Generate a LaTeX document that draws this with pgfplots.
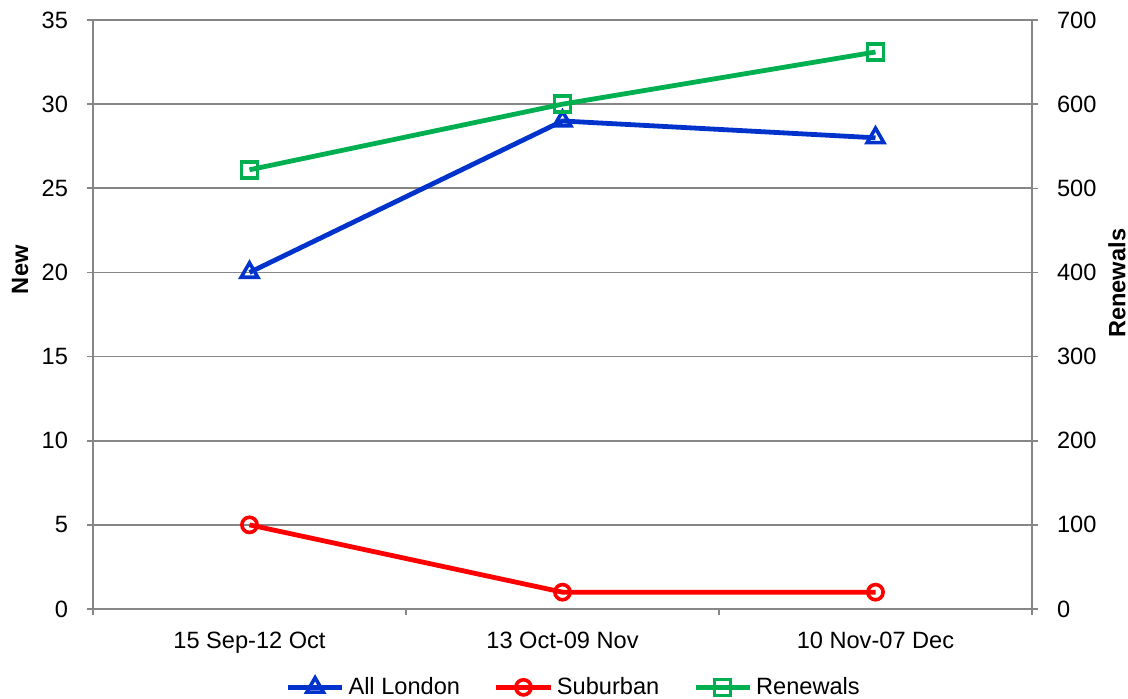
\documentclass[border=0pt]{standalone}
\usepackage{pgfplots}
\pgfplotsset{compat=1.18}
\usepackage{fontspec}
\setmainfont{Liberation Sans}
\definecolor{cblue}{RGB}{0,51,204}
\definecolor{cred}{RGB}{255,0,0}
\definecolor{cgreen}{RGB}{0,176,80}
\definecolor{cgrid}{RGB}{134,134,134}
\begin{document}
\begin{tikzpicture}
\pgfplotsset{
  common/.style={
    scale only axis, width=469.5pt, height=294.5pt,
    at={(0,0)}, anchor=south west,
    xmin=-0.5, xmax=2.5, ymin=0,
    font=\fontsize{11.8pt}{13pt}\selectfont,
    /pgf/number format/assume math mode=true,
    axis line style={cgrid, line width=0.8pt},
    tick style={cgrid, line width=0.8pt},
    tick align=outside,
    major tick length=3pt,
  }
}
\begin{axis}[common,
  ymax=35, ytick={0,5,...,35},
  axis x line*=bottom, axis y line*=left,
  xtick={0,1,2},
  xticklabels={15 Sep-12 Oct,13 Oct-09 Nov,10 Nov-07 Dec},
  major x tick style={draw=none},
  minor xtick={-0.5,0.5,1.5,2.5},
  minor tick length=3pt,
  x tick label style={yshift=-5pt},
  y tick label style={xshift=-6pt},
  ymajorgrids, grid style={cgrid, line width=0.8pt},
  ylabel={\textbf{New}},
  ylabel style={at={(axis description cs:0,0.576)}, yshift=36.5pt, anchor=center},
  legend style={at={(0.513,-0.133)}, anchor=center, draw=none, fill=none,
    legend columns=3, font=\fontsize{11.8pt}{13pt}\selectfont,
    /tikz/every even column/.append style={column sep=15pt}},
  legend image code/.code={\draw[#1] (0cm,0cm) -- (0.95cm,0cm); \draw[#1,mark repeat=2,mark phase=2] plot coordinates {(0cm,0cm) (0.475cm,0cm) (0.95cm,0cm)};},
]
\addplot[cblue, line width=2.4pt, mark=triangle, mark size=4.8pt, mark options={fill=white, line width=1.8pt}]
  coordinates {(0,20) (1,29) (2,28)};
\addlegendentry{All London}
\addplot[cred, line width=2.4pt, mark=o, mark size=3.8pt, mark options={fill=white, line width=1.8pt}]
  coordinates {(0,5) (1,1) (2,1)};
\addlegendentry{Suburban}
\addlegendimage{cgreen, line width=2.4pt, mark=square, mark size=4pt, mark options={fill=white, line width=1.8pt}}
\addlegendentry{Renewals}
\end{axis}
\begin{axis}[common,
  ymax=700, ytick={0,100,...,700},
  axis x line=none, axis y line*=right,
  y tick label style={xshift=6pt},
  ylabel={\textbf{Renewals}},
  ylabel style={at={(axis description cs:1,0.553)}, yshift=-42.5pt, anchor=center},
]
\addplot[cgreen, line width=2.4pt, mark=square, mark size=4pt, mark options={fill=white, line width=1.8pt}]
  coordinates {(0,522) (1,600) (2,662)};
\end{axis}
\pgfresetboundingbox
\path[use as bounding box] (-46.5pt,-44.5pt) rectangle (517.5pt,304.5pt);
\end{tikzpicture}
\end{document}
